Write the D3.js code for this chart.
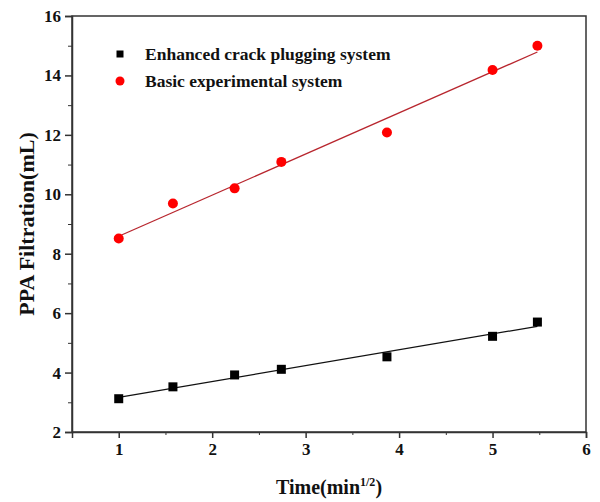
<!DOCTYPE html>
<meta charset="utf-8">
<style>
body { margin: 0; background: #fff; }
svg text { font-family: "Liberation Serif", "Times New Roman", serif; font-weight: 700; fill: #111; }
.axis path, .axis line { stroke: #333; }
</style>
<svg id="chart" width="600" height="502"></svg>
<script src="https://d3js.org/d3.v7.min.js"></script>
<script>

// sqrt of time (min^1/2)
let times = [1, 1.58, 2.24, 2.74, 3.87, 5, 5.48];
let enhanced = [3.12, 3.52, 3.92, 4.11, 4.53, 5.22, 5.70];
let basic = [8.51, 9.69, 10.2, 11.09, 12.08, 14.18, 15.0];
let seriesNames = ["Enhanced crack plugging system", "Basic experimental system"];
let xTicks = [1, 2, 3, 4, 5, 6];
let yTicks = [2, 4, 6, 8, 10, 12, 14, 16];

let svg = d3.select("#chart");
let margin = {top: 16, right: 14, bottom: 70, left: 72},
  width = 600 - margin.left - margin.right,
  height = 502 - margin.top - margin.bottom;

let x = d3.scaleLinear().domain([0.5, 6]).range([0, width]);
let y = d3.scaleLinear().domain([2, 16]).range([height, 0]);

let g = svg.append("g")
  .attr("transform", "translate(" + margin.left + "," + margin.top + ")");

// frame
g.append("rect")
  .attr("width", width).attr("height", height)
  .attr("fill", "none").attr("stroke", "#333").attr("stroke-width", 1.5);

// minor ticks
g.append("g")
  .attr("class", "axis")
  .attr("transform", "translate(0," + height + ")")
  .call(d3.axisBottom(x).tickValues(d3.range(1.5, 6, 1)).tickSize(3).tickFormat(""))
  .call(s => s.select(".domain").remove());
g.append("g")
  .attr("class", "axis")
  .call(d3.axisLeft(y).tickValues(d3.range(3, 16, 2)).tickSize(4).tickFormat(""))
  .call(s => s.select(".domain").remove());

// major ticks
let xAxis = g.append("g")
  .attr("class", "axis")
  .attr("transform", "translate(0," + height + ")")
  .call(d3.axisBottom(x).tickValues(xTicks).tickSize(6).tickPadding(5).tickFormat(d3.format("d")));
xAxis.select(".domain").attr("stroke-width", 1.5);
xAxis.selectAll("line").attr("stroke-width", 1.5);
xAxis.attr("font-family", null).attr("font-size", null);
xAxis.selectAll("text").style("font-size", "17px");

let yAxis = g.append("g")
  .attr("class", "axis")
  .call(d3.axisLeft(y).tickValues(yTicks).tickSize(7).tickPadding(4).tickFormat(d3.format("d")));
yAxis.select(".domain").attr("stroke-width", 1.5);
yAxis.selectAll("line").attr("stroke-width", 1.5);
yAxis.attr("font-family", null).attr("font-size", null);
yAxis.selectAll("text").style("font-size", "17px");

// linear fit
function fit(xs, ys) {
  let mx = d3.mean(xs), my = d3.mean(ys);
  let sxy = d3.sum(xs, (v, i) => (v - mx) * (ys[i] - my));
  let sxx = d3.sum(xs, v => (v - mx) * (v - mx));
  let b = sxy / sxx;
  return v => my + b * (v - mx);
}

let series = [
  {name: seriesNames[0], values: enhanced, color: "#000", line: "#111"},
  {name: seriesNames[1], values: basic, color: "#f00", line: "#b8262e"}
];

series.forEach(s => {
  let f = fit(times, s.values);
  let x0 = d3.min(times), x1 = d3.max(times);
  g.append("line")
    .attr("x1", x(x0)).attr("y1", y(f(x0)))
    .attr("x2", x(x1)).attr("y2", y(f(x1)))
    .attr("stroke", s.line).attr("stroke-width", 1.3);
});

g.selectAll(".sq")
  .data(times)
  .enter().append("rect")
  .attr("x", (d) => x(d) - 4.5)
  .attr("y", (d, i) => y(enhanced[i]) - 4.5)
  .attr("width", 9).attr("height", 9)
  .attr("fill", "#000");

g.selectAll(".dot")
  .data(times)
  .enter().append("circle")
  .attr("cx", d => x(d))
  .attr("cy", (d, i) => y(basic[i]))
  .attr("r", 5)
  .attr("fill", "#f00");

// legend
let leg = svg.append("g").attr("transform", "translate(120,54)");
leg.append("rect").attr("x", -3.5).attr("y", -3.5).attr("width", 7).attr("height", 7).attr("fill", "#000");
leg.append("circle").attr("cx", 0).attr("cy", 27).attr("r", 4.5).attr("fill", "#f00");
leg.append("text").attr("x", 25).attr("y", 6).style("font-size", "17.5px").text(seriesNames[0]);
leg.append("text").attr("x", 25).attr("y", 33).style("font-size", "17.5px").text(seriesNames[1]);

// axis titles
let xt = svg.append("text")
  .attr("x", margin.left + width / 2)
  .attr("y", 494)
  .attr("text-anchor", "middle")
  .style("font-size", "20px");
xt.append("tspan").text("Time(min");
xt.append("tspan").attr("dy", -8).style("font-size", "12px").text("1/2");
xt.append("tspan").attr("dy", 8).text(")");

svg.append("text")
  .attr("transform", "translate(34," + (margin.top + height / 2) + ") rotate(-90)")
  .attr("text-anchor", "middle")
  .style("font-size", "22px")
  .text("PPA Filtration(mL)");

</script>
